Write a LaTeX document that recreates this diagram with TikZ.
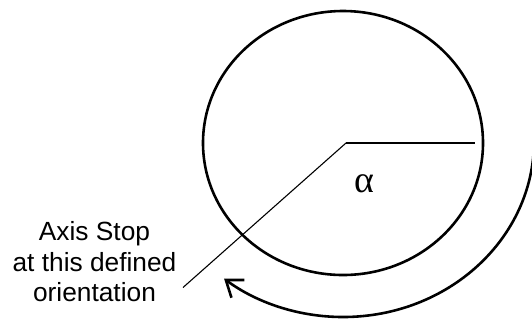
\documentclass[tikz,border=0pt]{standalone}
\usepackage{fontspec}
\setmainfont{Liberation Sans}
\newfontfamily\symfont{Liberation Serif}
\usetikzlibrary{
    arrows.meta,
    calc,
    positioning
}
\definecolor{ink}{RGB}{0,0,0}
\tikzset{
    line cap=round,
    line join=round,
    disc/.style={
        draw=ink,
        line width=1.3pt
    },
    axisline/.style={
        draw=ink,
        line width=0.55pt
    },
    turn/.style={
        -{Straight Barb[length=7.5pt, width=11pt, line width=1.3pt]},
        draw=ink,
        line width=1.3pt
    },
    annot/.style={
        font=\fontsize{13.2}{15.25}\selectfont,
        text=ink,
        align=center,
        inner sep=0pt
    },
    anglelabel/.style={
        font=\symfont\fontsize{19}{19}\selectfont,
        text=ink,
        inner sep=0pt
    }
}

\begin{document}
\begin{tikzpicture}[x=0.5bp, y=-0.5bp]
    \useasboundingbox (0, 0) rectangle (532, 320);
    \clip (0, 0) rectangle (532, 320);

    % Rotating disc
    \coordinate (centre) at (343, 143);
    \draw[disc] (centre) ellipse [x radius=140, y radius=132];

    % Axis lines
    \coordinate (axis) at (346, 143);
    \coordinate (zero) at (475, 143);
    \coordinate (stop) at (183, 287.5);
    \draw[axisline] (axis) -- (zero);
    \draw[axisline] (axis) -- (stop);

    % Angle
    \node[anglelabel] (alpha) at (364, 184) {α};

    % Direction of rotation
    \coordinate (sweep) at (534, 141);
    \draw[turn] (sweep) arc [start angle=0, end angle=128.5, x radius=191, y radius=176];

    % Annotation
    \node[annot, anchor=base] (stoptext) at (94.5, 301.7)
        {Axis Stop\\at this defined\\orientation};
\end{tikzpicture}
\end{document}
